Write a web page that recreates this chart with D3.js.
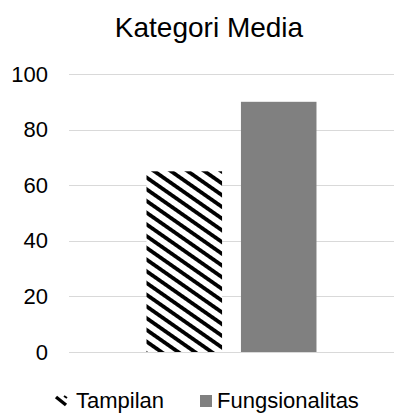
<!DOCTYPE html>
<html>
<head>
<meta charset="utf-8">
<script src="https://cdn.jsdelivr.net/npm/d3@7"></script>
<style>
  body { margin: 0; background: #fff; }
  text { font-family: "Liberation Sans", Arial, sans-serif; fill: #000; }
</style>
</head>
<body>
<div id="chart"></div>
<script>
// data
var categories = ["Kategori Media"];
var series = ["Tampilan", "Fungsionalitas"];
var values = [65, 90];
var yTicks = [0, 20, 40, 60, 80, 100];

var W = 395, H = 415;
var margin = { top: 74, right: 1, bottom: 63, left: 69 },
    width = W - margin.left - margin.right,
    height = H - margin.top - margin.bottom;

var svg = d3.select("#chart")
    .append("svg")
    .attr("width", W)
    .attr("height", H);

// diagonal hatch for the first series
var defs = svg.append("defs");
var pat = defs.append("pattern")
    .attr("id", "hatch")
    .attr("patternUnits", "userSpaceOnUse")
    .attr("width", 10)
    .attr("height", 9.6)
    .attr("patternTransform", "rotate(35)");
pat.append("rect").attr("width", 10).attr("height", 9.6).attr("fill", "#fff");
pat.append("rect").attr("width", 10).attr("height", 3.8).attr("fill", "#000");

var g = svg.append("g")
    .attr("transform", "translate(" + margin.left + "," + margin.top + ")");

// title
svg.append("text")
    .attr("x", 209)
    .attr("y", 37)
    .attr("text-anchor", "middle")
    .style("font-size", "28px")
    .text(categories[0]);

var y = d3.scaleLinear()
    .domain([0, 100])
    .range([height, 0]);

var x0 = d3.scaleBand()
    .domain(categories)
    .range([0, width])
    .paddingOuter(0.456);

var x1 = d3.scaleBand()
    .domain(series)
    .range([0, x0.bandwidth()])
    .paddingInner(0.2);

// gridlines
g.selectAll(".grid")
    .data(yTicks)
    .enter()
    .append("line")
    .attr("x1", 0)
    .attr("x2", width)
    .attr("y1", function (d) { return Math.round(y(d)) + 0.5; })
    .attr("y2", function (d) { return Math.round(y(d)) + 0.5; })
    .attr("stroke", "#d9d9d9")
    .attr("stroke-width", 1);

// y axis labels
var yAxis = g.append("g")
    .call(d3.axisLeft(y).tickValues(yTicks).tickSize(0).tickPadding(21));
yAxis.select(".domain").remove();
yAxis.selectAll("text")
    .style("font-size", "22px")
    .style("font-family", "Liberation Sans, Arial, sans-serif")
    .attr("fill", "#000");

// bars
g.selectAll(".bar")
    .data(series)
    .enter()
    .append("rect")
    .attr("x", function (d) { return x0(categories[0]) + x1(d); })
    .attr("y", function (d, i) { return y(values[i]); })
    .attr("width", x1.bandwidth())
    .attr("height", function (d, i) { return height - y(values[i]); })
    .attr("fill", function (d, i) { return i === 0 ? "url(#hatch)" : "#808080"; });

// legend
var legendX = [55, 200];
var leg = svg.selectAll(".leg")
    .data(series)
    .enter()
    .append("g")
    .attr("transform", function (d, i) { return "translate(" + legendX[i] + ",395)"; });
leg.each(function (d, i) {
    var k = d3.select(this);
    if (i === 0) {
        // hatch key: a single diagonal stripe
        k.append("line")
            .attr("x1", 1).attr("y1", 2)
            .attr("x2", 11).attr("y2", 10)
            .attr("stroke", "#000")
            .attr("stroke-width", 3.5);
        k.append("line")
            .attr("x1", 9).attr("y1", 1)
            .attr("x2", 12).attr("y2", 3)
            .attr("stroke", "#000")
            .attr("stroke-width", 2);
    } else {
        k.append("rect")
            .attr("width", 12)
            .attr("height", 12)
            .attr("fill", "#808080");
    }
});
leg.append("text")
    .attr("x", function (d, i) { return i === 0 ? 21 : 17; })
    .attr("y", 13)
    .style("font-size", "22px")
    .text(function (d) { return d; });
</script>
</body>
</html>
